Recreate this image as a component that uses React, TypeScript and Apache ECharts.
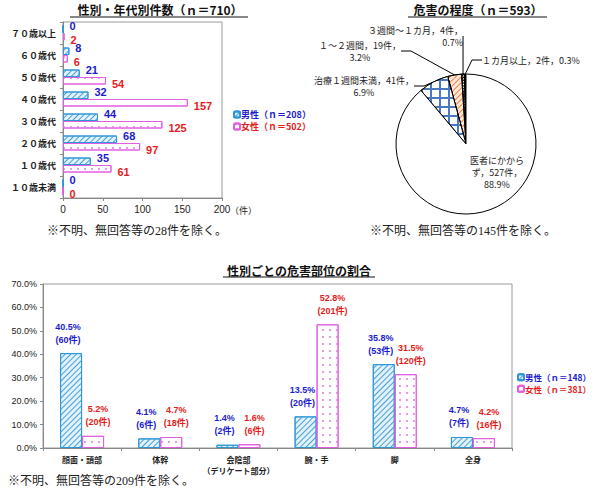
import React, { useEffect, useRef } from "react";
import * as echarts from "echarts";

// ---- Chart 1: 性別・年代別件数 ----
const ageCategories = ["７０歳以上", "６０歳代", "５０歳代", "４０歳代", "３０歳代", "２０歳代", "１０歳代", "１０歳未満"];
const maleByAge = [0, 8, 21, 32, 44, 68, 35, 0];
const femaleByAge = [2, 6, 54, 157, 125, 97, 61, 0];
const ageAxisTicks = [0, 50, 100, 150, 200];
const ageMaleName = "男性（ｎ＝208）";
const ageFemaleName = "女性（ｎ＝502）";

// ---- Chart 2: 危害の程度 ----
const severityNames = ["１カ月以上", "３週間～１カ月", "１～２週間", "治療１週間未満", "医者にかからず"];
const severityCounts = [2, 4, 19, 41, 527];

// ---- Chart 3: 性別ごとの危害部位の割合 ----
const partCategories = ["顔面・頭部", "体幹", "会陰部\n（デリケート部分）", "腕・手", "脚", "全身"];
const malePartPct = [40.5, 4.1, 1.4, 13.5, 35.8, 4.7];
const malePartCounts = [60, 6, 2, 20, 53, 7];
const femalePartPct = [5.2, 4.7, 1.6, 52.8, 31.5, 4.2];
const femalePartCounts = [20, 18, 6, 201, 120, 16];
const partMaleName = "男性（ｎ＝148）";
const femalePartName = "女性（ｎ＝381）";

const JP = "'Noto Sans CJK JP', 'Noto Sans', sans-serif";
const NUM = "'Liberation Sans', 'Noto Sans CJK JP', sans-serif";
const SERIF = "'Liberation Serif', 'DejaVu Serif', 'Noto Sans CJK JP', serif";
const BLUE_TXT = "#1c1ccc";
const RED_TXT = "#e51c1c";
const MALE_BORDER = "#2f97d6";
const FEMALE_BORDER = "#e25ee2";

const maleDecal = {
  symbol: "rect",
  symbolSize: 1,
  color: "#4aa0da",
  backgroundColor: "#e2f2fc",
  dashArrayX: [1, 0],
  dashArrayY: [0.8, 2.2],
  rotation: -Math.PI / 4,
};
const femaleDecal = {
  symbol: "rect",
  symbolSize: 1,
  color: "#e89ae8",
  backgroundColor: "#ffffff",
  dashArrayX: [[1.2, 5]],
  dashArrayY: [1.2, 5],
  rotation: 0,
};

export default function App() {
  const ref = useRef<HTMLDivElement>(null);
  useEffect(() => {
    document.body.style.margin = "0";
    const chart = echarts.init(ref.current!, null, { renderer: "svg" });

    const pieStyles = [
      { color: "#111", borderColor: "#000", borderWidth: 1 },
      {
        color: "#fff", borderColor: "#000", borderWidth: 1,
        decal: { symbol: "rect", symbolSize: 1, color: "#000", backgroundColor: "#fff", dashArrayX: [1, 0], dashArrayY: [1, 1], rotation: -Math.PI / 4 },
      },
      {
        color: "#fde8d8", borderColor: "#000", borderWidth: 1,
        decal: { symbol: "rect", symbolSize: 1, color: "#e8864a", backgroundColor: "#fde8d8", dashArrayX: [1, 0], dashArrayY: [0.8, 2.2], rotation: -Math.PI / 4 },
      },
      {
        color: "#4b78c0", borderColor: "#000", borderWidth: 1,
        decal: { symbol: "rect", symbolSize: 1, color: "#ffffff", backgroundColor: "#4b78c0", dashArrayX: [6.5, 1.1], dashArrayY: [6.5, 1.1], rotation: 0 },
      },
      { color: "#fff", borderColor: "#000", borderWidth: 1 },
    ];

    const pieLabelPos = [
      { x: 482, y: 60, align: "left" },
      { x: 463, y: 36, align: "right" },
      { x: 360, y: 51, align: "center" },
      { x: 364, y: 86, align: "center" },
      { x: 497, y: 172, align: "center" },
    ];

    const option: any = {
      animation: false,
      textStyle: { fontFamily: JP },
      grid: [
        { left: 63, top: 22, width: 159, height: 176, show: true, borderColor: "#9a9a9a", borderWidth: 1 },
        { left: 43, top: 284, width: 469, height: 164, show: true, borderColor: "#9a9a9a", borderWidth: 1 },
      ],
      legend: [
        {
          left: 228, top: 105, orient: "vertical", itemWidth: 6, itemHeight: 6, itemGap: 3,
          data: [
            { name: ageMaleName, textStyle: { color: BLUE_TXT } },
            { name: ageFemaleName, textStyle: { color: RED_TXT } },
          ],
          textStyle: { fontSize: 9, fontWeight: "bold", fontFamily: JP, padding: [0, 0, 0, -4] },
        },
        {
          left: 515, top: 371, padding: 2, orient: "vertical", itemWidth: 6, itemHeight: 6, itemGap: 3,
          data: [
            { name: partMaleName, textStyle: { color: BLUE_TXT } },
            { name: femalePartName, textStyle: { color: RED_TXT } },
          ],
          textStyle: { fontSize: 8.5, fontWeight: "bold", fontFamily: JP, padding: [0, 0, 0, -4] },
        },
      ],
      xAxis: [
        {
          gridIndex: 0, type: "value", min: ageAxisTicks[0], max: ageAxisTicks[ageAxisTicks.length - 1], interval: 50,
          axisLine: { show: true, lineStyle: { color: "#888" } },
          axisTick: { show: true, length: 3, lineStyle: { color: "#888" } },
          axisLabel: { fontSize: 10, color: "#222", margin: 6, fontFamily: NUM },
          splitLine: { show: false },
        },
        {
          gridIndex: 1, type: "category", data: partCategories,
          axisLine: { show: true, lineStyle: { color: "#888" } },
          axisTick: { show: true, length: 3, lineStyle: { color: "#888" } },
          axisLabel: { fontSize: 8, color: "#222", fontWeight: "bold", margin: 6, lineHeight: 11, interval: 0 },
        },
      ],
      yAxis: [
        {
          gridIndex: 0, type: "category", inverse: true, data: ageCategories,
          axisLine: { show: true, lineStyle: { color: "#888" } },
          axisTick: { show: true, length: 3, lineStyle: { color: "#888" } },
          axisLabel: { fontSize: 9, color: "#222", margin: 7, fontWeight: "bold" },
        },
        {
          gridIndex: 1, type: "value", min: 0, max: 70, interval: 10,
          axisLine: { show: true, lineStyle: { color: "#888" } },
          axisTick: { show: true, length: 3, lineStyle: { color: "#888" } },
          axisLabel: { fontSize: 9, color: "#222", margin: 6, formatter: (v: number) => v.toFixed(1) + "%", fontFamily: NUM },
          splitLine: { show: false },
        },
      ],
      series: [
        {
          name: ageMaleName, type: "bar", xAxisIndex: 0, yAxisIndex: 0, data: maleByAge,
          barWidth: 7.5, barGap: "0%",
          itemStyle: { color: "#e2f2fc", borderColor: MALE_BORDER, borderWidth: 1, decal: maleDecal },
          label: {
            show: true, position: "right", distance: 6, offset: [0, -3], color: BLUE_TXT,
            fontSize: 11, fontWeight: "bold", fontFamily: NUM,
          },
        },
        {
          name: ageFemaleName, type: "bar", xAxisIndex: 0, yAxisIndex: 0, data: femaleByAge,
          barWidth: 7.5, barGap: "0%",
          itemStyle: { color: "#ffffff", borderColor: FEMALE_BORDER, borderWidth: 1, decal: femaleDecal },
          label: {
            show: true, position: "right", distance: 6, offset: [0, 3], color: RED_TXT,
            fontSize: 11, fontWeight: "bold", fontFamily: NUM,
          },
        },
        {
          name: partMaleName, type: "bar", xAxisIndex: 1, yAxisIndex: 1, data: malePartPct,
          barWidth: 22, barGap: "0%",
          itemStyle: { color: "#e2f2fc", borderColor: MALE_BORDER, borderWidth: 1, decal: maleDecal },
          label: {
            show: true, position: "top", distance: 7, offset: [-3, 0], color: BLUE_TXT, fontSize: 9, fontWeight: "bold", lineHeight: 13,
            fontFamily: NUM,
            formatter: (p: any) => `${p.value.toFixed(1)}%\n(${malePartCounts[p.dataIndex]}件)`,
          },
        },
        {
          name: femalePartName, type: "bar", xAxisIndex: 1, yAxisIndex: 1, data: femalePartPct,
          barWidth: 22, barGap: "0%",
          itemStyle: { color: "#ffffff", borderColor: FEMALE_BORDER, borderWidth: 1, decal: femaleDecal },
          label: {
            show: true, position: "top", distance: 7, offset: [5, 0], color: RED_TXT, fontSize: 9, fontWeight: "bold", lineHeight: 13,
            fontFamily: NUM,
            formatter: (p: any) => `${p.value.toFixed(1)}%\n(${femalePartCounts[p.dataIndex]}件)`,
          },
        },
        {
          name: "危害の程度", type: "pie", center: [466, 144], radius: 70, startAngle: 90, clockwise: false,
          percentPrecision: 1, avoidLabelOverlap: false,
          data: severityNames.map((n, i) => ({
            name: n, value: severityCounts[i], itemStyle: pieStyles[i],
            labelLine: { show: i !== 4 },
          })),
          label: {
            show: true, color: "#222", fontSize: 9, lineHeight: 12,
            formatter: (p: any) => {
              const pct = `${p.percent.toFixed(1)}%`;
              if (p.dataIndex === 0) return `${p.name}，${p.value}件，${pct}`;
              if (p.dataIndex === 4) return `${p.name.slice(0, 6)}\n${p.name.slice(6)}，${p.value}件，\n${pct}`;
              return `${p.name}，${p.value}件，\n${pct}`;
            },
          },
          labelLine: { show: true, length: 10, length2: 10, lineStyle: { color: "#000", width: 1 } },
          labelLayout: (p: any) => {
            const pos = pieLabelPos[p.dataIndex];
            return { x: pos.x, y: pos.y, align: pos.align, verticalAlign: "middle" };
          },
          emphasis: { disabled: true },
        },
      ],
      graphic: [
        // titles
        { type: "text", x: 160, y: 9, style: { text: "性別・年代別件数（ｎ＝710）", fontSize: 12, fontWeight: "bold", fill: "#111", align: "center", verticalAlign: "middle", fontFamily: JP } },
        { type: "line", shape: { x1: 70, y1: 17, x2: 248, y2: 17 }, style: { stroke: "#111", lineWidth: 1 } },
        { type: "text", x: 478, y: 9, style: { text: "危害の程度（ｎ＝593）", fontSize: 12, fontWeight: "bold", fill: "#111", align: "center", verticalAlign: "middle", fontFamily: JP } },
        { type: "line", shape: { x1: 408, y1: 17, x2: 547, y2: 17 }, style: { stroke: "#111", lineWidth: 1 } },
        { type: "text", x: 299, y: 270, style: { text: "性別ごとの危害部位の割合", fontSize: 12, fontWeight: "bold", fill: "#111", align: "center", verticalAlign: "middle", fontFamily: JP } },
        { type: "line", shape: { x1: 223, y1: 277, x2: 375, y2: 277 }, style: { stroke: "#111", lineWidth: 1 } },
        // unit
        { type: "text", x: 230, y: 210, style: { text: "（件）", fontSize: 9, fill: "#222", align: "left", verticalAlign: "middle", fontFamily: JP } },
        // footnotes
        { type: "text", x: 47, y: 231, style: { text: "※不明、無回答等の28件を除く。", fontSize: 12, fill: "#222", align: "left", verticalAlign: "middle", fontFamily: SERIF } },
        { type: "text", x: 370, y: 231, style: { text: "※不明、無回答等の145件を除く。", fontSize: 12, fill: "#222", align: "left", verticalAlign: "middle", fontFamily: SERIF } },
        { type: "text", x: 8, y: 481, style: { text: "※不明、無回答等の209件を除く。", fontSize: 12, fill: "#222", align: "left", verticalAlign: "middle", fontFamily: SERIF } },
      ],
    };
    chart.setOption(option);
    return () => chart.dispose();
  }, []);
  return <div ref={ref} style={{ width: 600, height: 491 }} />;
}
